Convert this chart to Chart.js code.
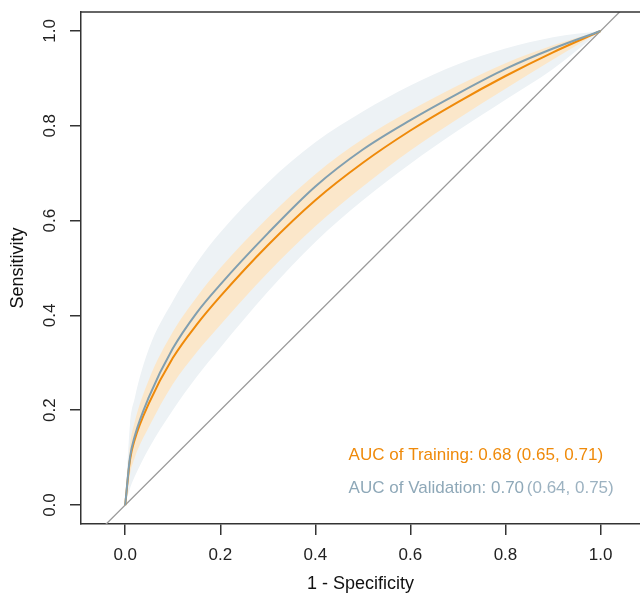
<!DOCTYPE html>
<html>
<head>
<meta charset="utf-8">
<script src="https://cdn.jsdelivr.net/npm/chart.js@4.4.1/dist/chart.umd.min.js"></script>
<style>
  html, body { margin: 0; padding: 0; background: #fff; overflow: hidden; }
  canvas { display: block; }
</style>
</head>
<body>
<canvas id="rocChart" width="640" height="595"></canvas>
<script>
// false positive rate grid (1 - specificity)
const fpr = [0, 0.01, 0.02, 0.05, 0.1, 0.15, 0.2, 0.3, 0.4, 0.5, 0.6, 0.7, 0.8, 0.9, 1.0];

// training curve + confidence band
const trainTpr   = [0, 0.095, 0.138, 0.215, 0.31, 0.38, 0.44, 0.548, 0.643, 0.722, 0.79, 0.85, 0.905, 0.955, 1];
const trainLower = [0, 0.065, 0.1, 0.165, 0.255, 0.322, 0.38, 0.49, 0.588, 0.672, 0.748, 0.815, 0.878, 0.94, 1];
const trainUpper = [0, 0.125, 0.175, 0.265, 0.365, 0.438, 0.5, 0.606, 0.698, 0.772, 0.832, 0.885, 0.932, 0.97, 1];

// validation curve + confidence band
const validTpr   = [0, 0.1, 0.145, 0.228, 0.33, 0.405, 0.465, 0.573, 0.672, 0.75, 0.812, 0.868, 0.92, 0.963, 1];
const validLower = [0, 0.035, 0.06, 0.12, 0.2, 0.27, 0.332, 0.45, 0.555, 0.643, 0.72, 0.79, 0.855, 0.92, 1];
const validUpper = [0, 0.17, 0.225, 0.33, 0.43, 0.51, 0.575, 0.68, 0.765, 0.83, 0.885, 0.93, 0.963, 0.987, 1];

// reference diagonal end values
const diagLine = [-0.2, 1.2];

const xTicks = [0, 0.2, 0.4, 0.6, 0.8, 1.0];
const yTicks = [0, 0.2, 0.4, 0.6, 0.8, 1.0];

const trainLabel = 'AUC of Training: 0.68 (0.65, 0.71)';
const validLabelMain = 'AUC of Validation: 0.70';
const validLabelCi = '(0.64, 0.75)';

const FONT = '"Liberation Sans", Arial, sans-serif';
const ORANGE = '#ef8a0a';
const BLUE = '#819fb0';

const pts = (ys) => fpr.map((x, i) => ({ x: x, y: ys[i] }));

const bandStyle = {
    pointRadius: 0,
    borderWidth: 0,
    borderColor: 'rgba(0,0,0,0)',
    cubicInterpolationMode: 'monotone'
};

const rocData = {
    datasets: [
        Object.assign({ data: pts(validUpper), fill: '+1', backgroundColor: '#edf2f5', order: 4 }, bandStyle),
        Object.assign({ data: pts(validLower), fill: false, order: 4 }, bandStyle),
        Object.assign({ data: pts(trainUpper), fill: '+1', backgroundColor: '#fbe7ca', order: 3 }, bandStyle),
        Object.assign({ data: pts(trainLower), fill: false, order: 3 }, bandStyle),
        {
            data: diagLine.map(v => ({ x: v, y: v })),
            borderColor: '#9a9a9a', borderWidth: 1.3, pointRadius: 0, fill: false, order: 2
        },
        {
            data: pts(trainTpr), borderColor: ORANGE, borderWidth: 2, pointRadius: 0,
            fill: false, cubicInterpolationMode: 'monotone', order: 1
        },
        {
            data: pts(validTpr), borderColor: BLUE, borderWidth: 2, pointRadius: 0,
            fill: false, cubicInterpolationMode: 'monotone', order: 0
        }
    ]
};

// rotated y tick labels, top border, AUC text
const extras = {
    id: 'extras',
    afterDraw(chart) {
        const ctx = chart.ctx;
        const area = chart.chartArea;
        const xs = chart.scales.x;
        const ys = chart.scales.y;
        ctx.save();
        ctx.strokeStyle = '#333';
        ctx.lineWidth = 1.5;
        ctx.beginPath();
        ctx.moveTo(area.left, area.top);
        ctx.lineTo(area.right, area.top);
        ctx.stroke();

        ctx.fillStyle = '#222';
        ctx.font = '17px ' + FONT;
        ctx.textAlign = 'center';
        ctx.textBaseline = 'middle';
        yTicks.forEach(v => {
            ctx.save();
            ctx.translate(50, ys.getPixelForValue(v));
            ctx.rotate(-Math.PI / 2);
            ctx.fillText(v.toFixed(1), 0, 0);
            ctx.restore();
        });

        ctx.textAlign = 'left';
        const tx = xs.getPixelForValue(0.47);
        ctx.fillStyle = ORANGE;
        ctx.fillText(trainLabel, tx, ys.getPixelForValue(0.105));
        ctx.fillStyle = '#8ea8b8';
        const vy = ys.getPixelForValue(0.036);
        ctx.fillText(validLabelMain, tx, vy);
        const w = ctx.measureText(validLabelMain + ' ').width;
        ctx.fillStyle = '#9cb2c1';
        ctx.fillText(validLabelCi, tx + w - 2, vy);
        ctx.restore();
    }
};

const rocConfig = {
    type: 'line',
    data: rocData,
    options: {
        responsive: false,
        animation: false,
        layout: { padding: { top: 12, right: 0, left: 0, bottom: 0 } },
        plugins: {
            legend: { display: false },
            tooltip: { enabled: false }
        },
        scales: {
            x: {
                type: 'linear',
                min: -0.093,
                max: 1.083,
                afterBuildTicks: (scale) => { scale.ticks = xTicks.map(v => ({ value: v })); },
                afterFit: (scale) => { scale.height = 71; },
                grid: { drawOnChartArea: false, drawTicks: true, tickLength: 11, color: '#333', lineWidth: 1.5 },
                border: { display: true, color: '#333', width: 1.5 },
                ticks: {
                    color: '#222', padding: 10,
                    font: { size: 17, family: FONT },
                    maxRotation: 0,
                    callback: (v) => v.toFixed(1)
                },
                title: {
                    display: true, text: '1 - Specificity', color: '#111',
                    font: { size: 18, family: FONT }, padding: { top: 0, bottom: 0 }
                }
            },
            y: {
                type: 'linear',
                min: -0.04,
                max: 1.04,
                afterBuildTicks: (scale) => { scale.ticks = yTicks.map(v => ({ value: v })); },
                afterFit: (scale) => { scale.width = 81; },
                grid: { drawOnChartArea: false, drawTicks: true, tickLength: 11, color: '#333', lineWidth: 1.5 },
                border: { display: true, color: '#333', width: 1.5 },
                ticks: { display: false },
                title: {
                    display: true, text: 'Sensitivity', color: '#111',
                    font: { size: 18, family: FONT }, padding: { top: 7, bottom: 0 }
                }
            }
        }
    },
    plugins: [extras]
};

window.onload = function() {
    const ctx = document.getElementById('rocChart').getContext('2d');
    new Chart(ctx, rocConfig);
};
</script>
</body>
</html>
